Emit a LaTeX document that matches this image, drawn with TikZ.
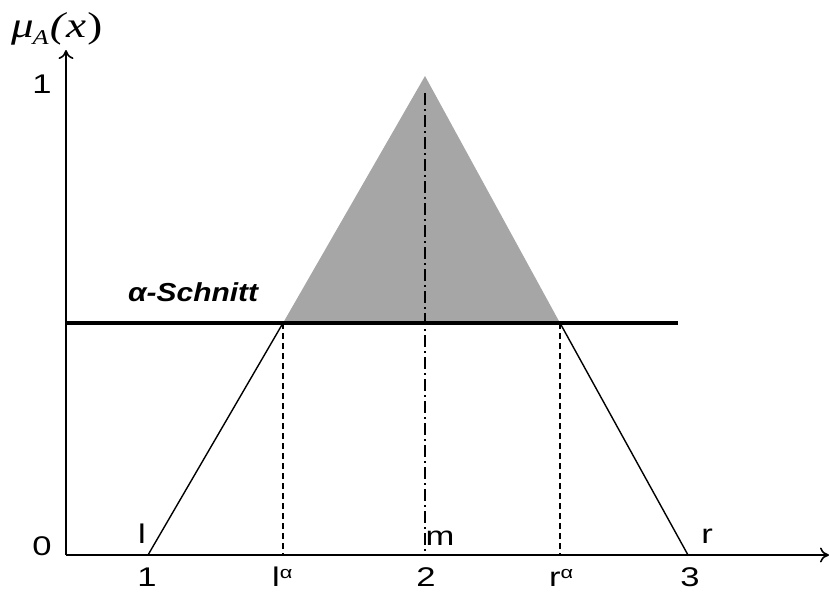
\documentclass[tikz,border=0pt]{standalone}
\usepackage{fontspec}
\setmainfont{Liberation Sans}
\newfontfamily\serifit{Liberation Serif}
\usetikzlibrary{arrows.meta}
\newcommand{\wide}[1]{\scalebox{1.28}[1]{#1}}
\begin{document}
\begin{tikzpicture}[x=1pt,y=-1pt,
  axis/.style={line width=2.5pt,-{To[length=9pt,width=15pt,line width=1.6pt]}},
  tri/.style={line width=1.4pt},
  cut/.style={line width=3.8pt},
  dashv/.style={line width=1.2pt,dash pattern=on 6pt off 4pt},
  dashdotv/.style={line width=1.2pt,dash pattern=on 12pt off 4pt on 2pt off 4pt},
  lbl/.style={inner sep=0pt,anchor=base,font=\fontsize{27}{27}\selectfont}]
\useasboundingbox (0,0) rectangle (829,592);
% points
\coordinate (O) at (66,555);
\coordinate (Ytip) at (66,50);
\coordinate (Xtip) at (829,555);
\coordinate (L) at (148,555);
\coordinate (M) at (425,76);
\coordinate (R) at (688,555);
\coordinate (La) at (283,323);
\coordinate (Ra) at (560,323);
\coordinate (Lab) at (283,555);
\coordinate (Rab) at (560,555);
\coordinate (Mtop) at (425,93);
\coordinate (Mb) at (425,555);
\coordinate (Cl) at (66,323);
\coordinate (Cr) at (678,323);
% fill
\fill[black!35] (La) -- (M) -- (Ra) -- cycle;
% triangle legs
\draw[tri] (L) -- (La);
\draw[tri] (Ra) -- (R);
% dashed verticals
\draw[dashv] (La) -- (Lab);
\draw[dashv] (Ra) -- (Rab);
\draw[dashdotv] (Mtop) -- (Mb);
% alpha cut
\draw[cut] (Cl) -- (Cr);
% axes
\draw[axis] (O) -- (Ytip);
\draw[axis] (O) -- (Xtip);
% labels
\node[inner sep=0pt,anchor=base west,font=\serifit\itshape\fontsize{36}{36}\selectfont] (mu) at (11,37) {\scalebox{1.25}[1]{μ\kern-1pt\raisebox{-7pt}{\fontsize{21}{21}\selectfont A}\kern1pt(\kern1pt x\kern1pt\upshape)}};
\node[lbl] (y1) at (42,93) {\wide{1}};
\node[lbl] (y0) at (42,555) {\wide{0}};
\node[lbl] (tl) at (142,543) {\wide{l}};
\node[lbl] (tm) at (440,545) {\wide{m}};
\node[lbl] (tr) at (707,543) {\wide{r}};
\node[lbl] (x1) at (147,586) {\wide{1}};
\node[lbl,anchor=base west] (xla) at (272,586) {\wide{l\raisebox{8pt}{\fontsize{17}{17}\selectfont α}}};
\node[lbl] (x2) at (426,586) {\wide{2}};
\node[lbl,anchor=base west] (xra) at (549,586) {\wide{r\raisebox{8pt}{\fontsize{17}{17}\selectfont α}}};
\node[lbl] (x3) at (690,586) {\wide{3}};
\node[inner sep=0pt,anchor=base west,font=\bfseries\itshape\fontsize{26}{26}\selectfont] (as) at (128,301) {\scalebox{1.15}[1]{α-Schnitt}};
\end{tikzpicture}
\end{document}
